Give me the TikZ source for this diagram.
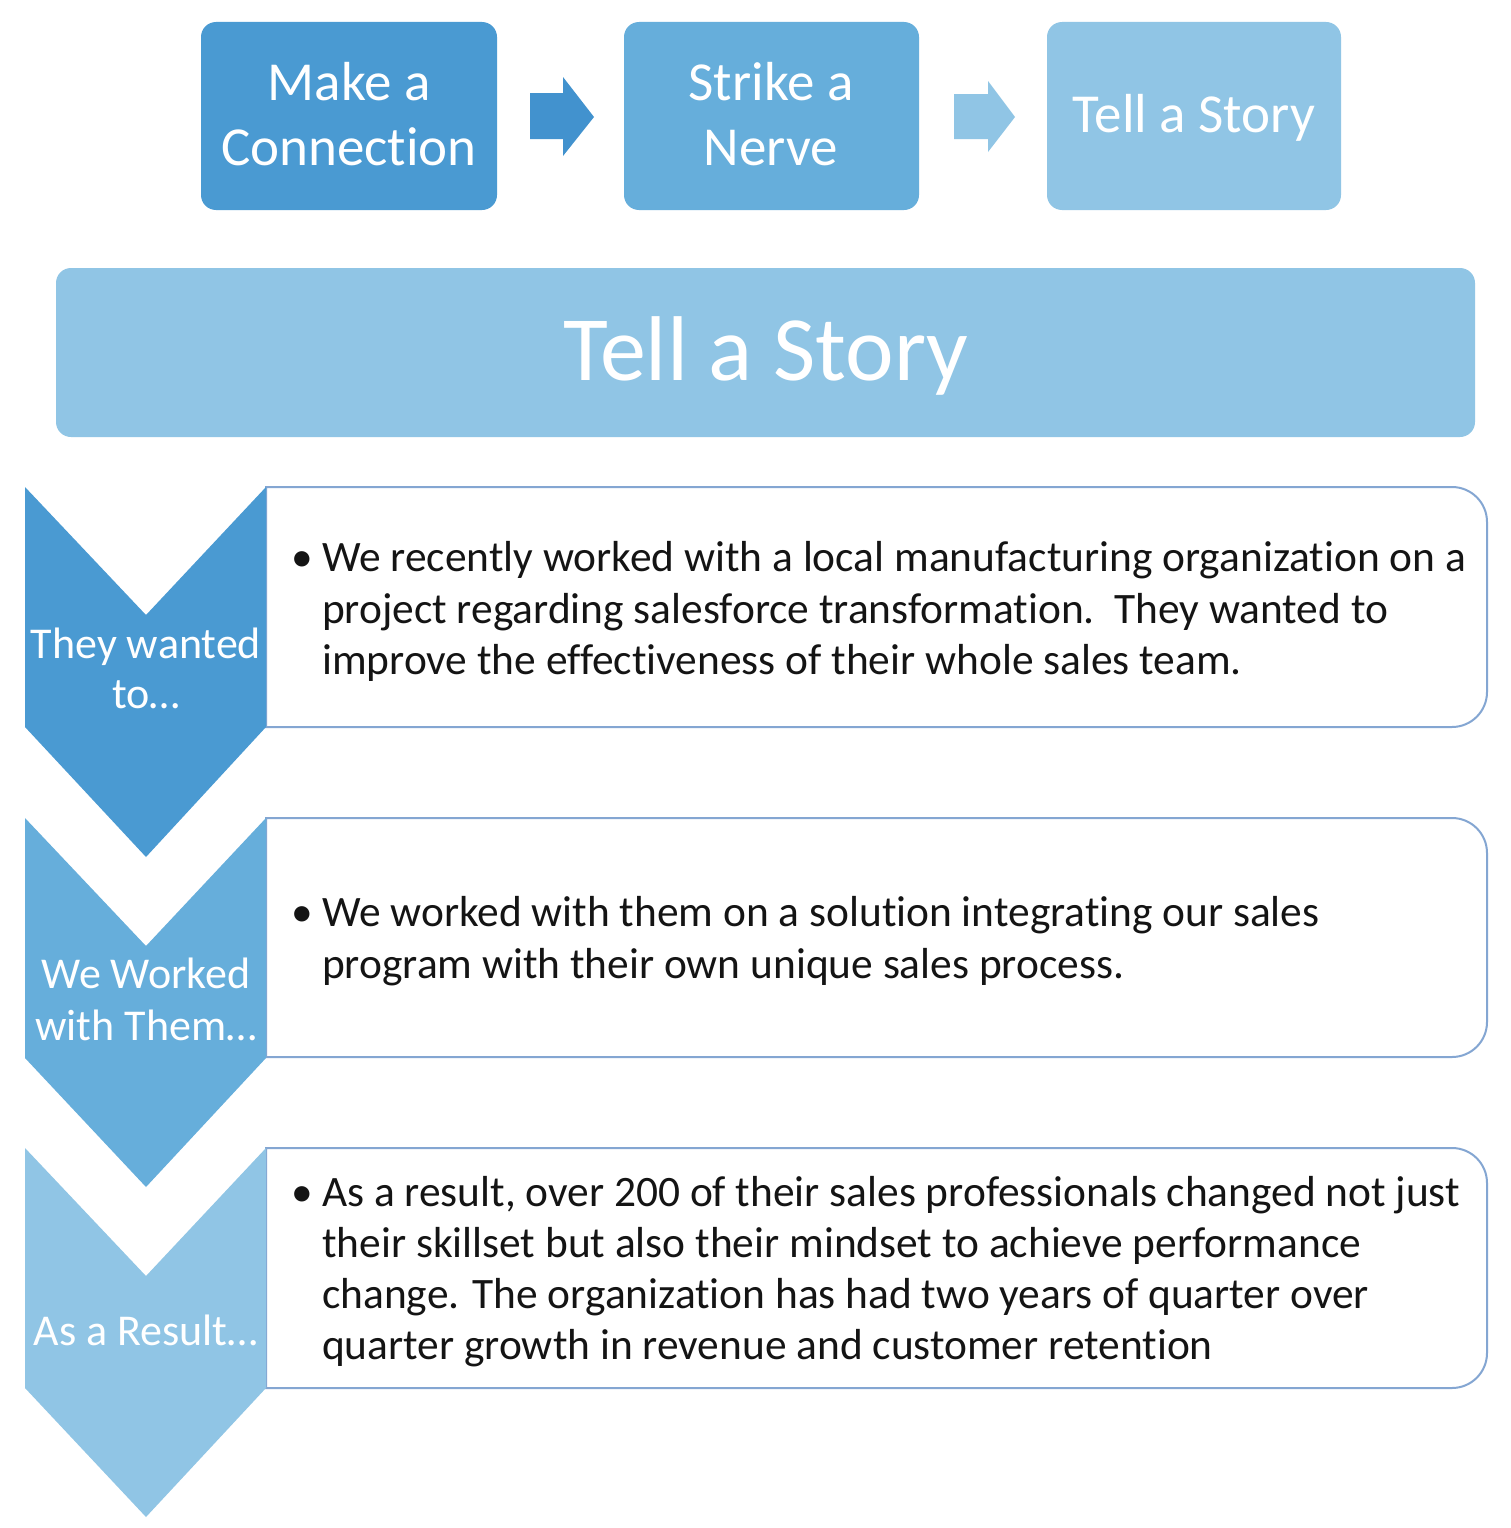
\documentclass[tikz,border=0pt]{standalone}
\usepackage{fontspec}
\setmainfont{Carlito}[Ligatures={NoCommon,NoContextual}]
\definecolor{cdark}{RGB}{74,154,210}
\definecolor{carrow}{RGB}{66,146,206}
\definecolor{cmid}{RGB}{102,174,219}
\definecolor{clight}{RGB}{144,197,229}
\definecolor{cborder}{RGB}{132,166,210}
\definecolor{ctext}{RGB}{20,20,20}
\begin{document}
\begin{tikzpicture}[x=1pt,y=-1pt,
  topbox/.style={rounded corners=15pt},
  toptext/.style={text=white,font=\fontsize{55}{64}\selectfont,inner sep=0pt,anchor=base},
  chevlabel/.style={text=white,font=\fontsize{44}{50}\selectfont,inner sep=0pt,anchor=base},
  bodytext/.style={text=ctext,font=\fontsize{43.4}{51.5}\selectfont,inner sep=0pt,anchor=base west},
  bulletmark/.style={text=ctext,font=\fontsize{43.4}{51.5}\selectfont,inner sep=0pt,anchor=base},
  storybox/.style={draw=cborder,line width=2pt,fill=white}
]
\useasboundingbox (0,0) rectangle (1510,1528);
\fill[white] (0,0) rectangle (1510,1528);

% top row boxes
\fill[cdark,topbox] (201,22) rectangle (497,210);
\fill[cmid,topbox] (624,22) rectangle (919,210);
\fill[clight,topbox] (1047,22) rectangle (1341,210);
\node[toptext] (t1a) at (349,100) {Make a};
\node[toptext] (t1b) at (349,165) {Connection};
\node[toptext] (t2a) at (771,100) {Strike a};
\node[toptext] (t2b) at (771,165) {Nerve};
\node[toptext] (t3) at (1194,132) {Tell a Story};

% arrows
\fill[carrow] (530,93) -- (563,93) -- (563,77) -- (594,117) -- (563,156) -- (563,139) -- (530,139) -- cycle;
\fill[clight] (954,94) -- (988,94) -- (988,81) -- (1015,117) -- (988,152) -- (988,139) -- (954,139) -- cycle;

% band
\fill[clight,rounded corners=15pt] (56,268) rectangle (1475,437);
\node[text=white,font=\fontsize{92}{100}\selectfont,inner sep=0pt,anchor=base] (band) at (766,380) {Tell a Story};

% story boxes
\draw[storybox] (266,487) -- (1452,487) arc[start angle=-90,end angle=0,radius=35] -- (1487,692) arc[start angle=0,end angle=90,radius=35] -- (266,727) -- cycle;
\draw[storybox] (266,818) -- (1452,818) arc[start angle=-90,end angle=0,radius=35] -- (1487,1022) arc[start angle=0,end angle=90,radius=35] -- (266,1057) -- cycle;
\draw[storybox] (266,1148) -- (1452,1148) arc[start angle=-90,end angle=0,radius=35] -- (1487,1353) arc[start angle=0,end angle=90,radius=35] -- (266,1388) -- cycle;

% chevrons
\fill[cdark] (25,487) -- (146,615) -- (266,487) -- (266,727) -- (146,857) -- (25,727) -- cycle;
\fill[cmid] (25,818) -- (146,946) -- (266,818) -- (266,1058) -- (146,1187) -- (25,1058) -- cycle;
\fill[clight] (25,1148) -- (146,1276) -- (266,1148) -- (266,1388) -- (146,1517) -- (25,1388) -- cycle;

\node[chevlabel] (l1a) at (146,658) {They wanted};
\node[chevlabel] (l1b) at (146,708) {to…};
\node[chevlabel] (l2a) at (146,988) {We Worked};
\node[chevlabel] (l2b) at (146,1040) {with Them…};
\node[chevlabel] (l3) at (146,1345) {As a Result…};

% body text
\node[bulletmark] (b1) at (302,571) {•};
\node[bodytext] (s1a) at (322,571) {We recently worked with a local manufacturing organization on a};
\node[bodytext] (s1b) at (322,623) {project regarding salesforce transformation.\ \ They wanted to};
\node[bodytext] (s1c) at (322,674) {improve the effectiveness of their whole sales team.};
\node[bulletmark] (b2) at (302,926) {•};
\node[bodytext] (s2a) at (322,926) {We worked with them on a solution integrating our sales};
\node[bodytext] (s2b) at (322,978) {program with their own unique sales process.};
\node[bulletmark] (b3) at (302,1206) {•};
\node[bodytext] (s3a) at (322,1206) {As a result, over 200 of their sales professionals changed not just};
\node[bodytext] (s3b) at (322,1257) {their skillset but also their mindset to achieve performance};
\node[bodytext] (s3c) at (322,1308) {change. The organization has had two years of quarter over};
\node[bodytext] (s3d) at (322,1359) {quarter growth in revenue and customer retention};
\end{tikzpicture}
\end{document}
